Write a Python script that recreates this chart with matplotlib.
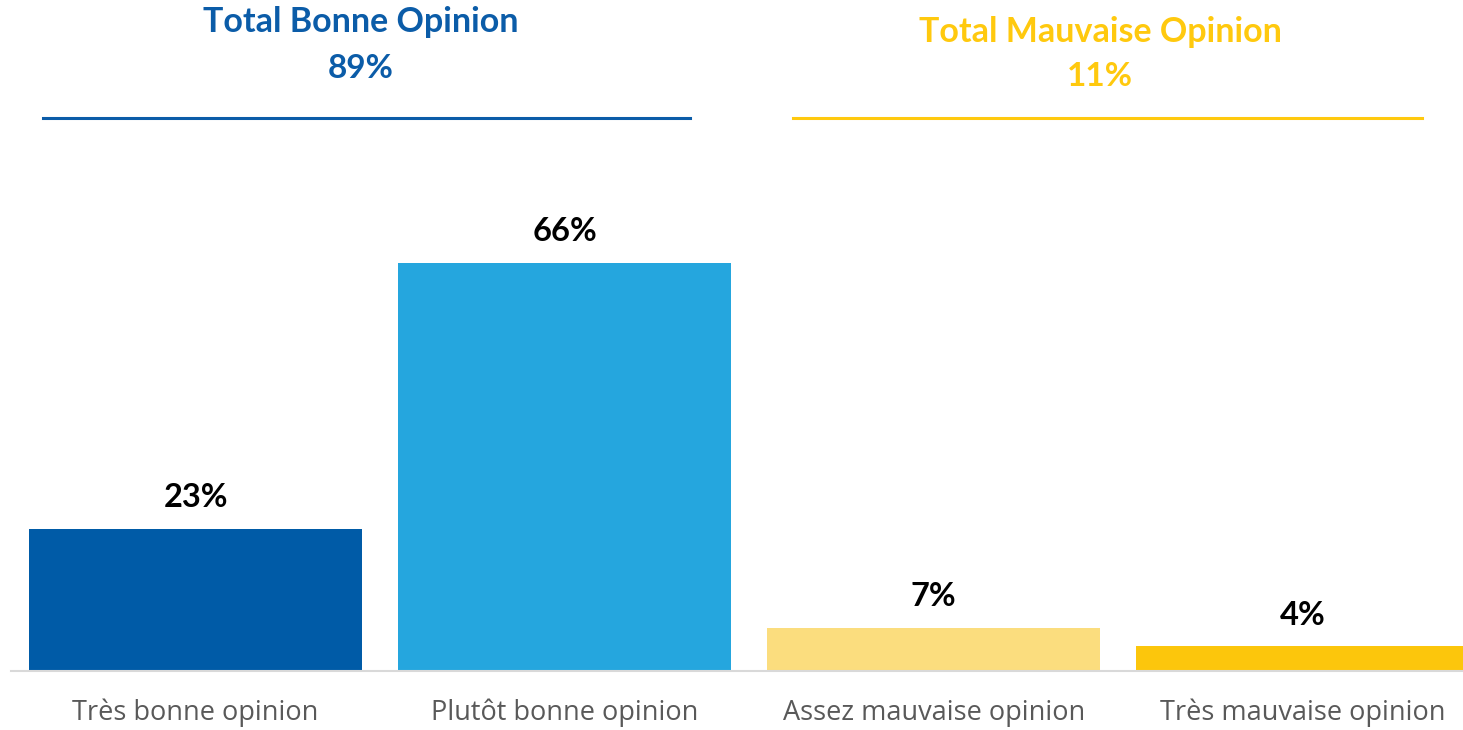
import matplotlib
matplotlib.use("Agg")
import matplotlib.pyplot as plt
from matplotlib.lines import Line2D

categories = ["Très bonne opinion", "Plutôt bonne opinion", "Assez mauvaise opinion", "Très mauvaise opinion"]
values = [23, 66, 7, 4]
bar_colors = ["#005BA7", "#25A6DE", "#FBDD7E", "#FCC60C"]
group_titles = ["Total Bonne Opinion", "Total Mauvaise Opinion"]
group_totals = [89, 11]
group_colors = ["#0B5CA8", "#FFC90E"]

W, H = 1463, 730
fig = plt.figure(figsize=(W / 100, H / 100), dpi=100)
ax = fig.add_axes([11 / W, (H - 671) / H, 1 - 11 / W, 671 / H])

x = list(range(len(categories)))
ax.bar(x, values, width=0.902, color=bar_colors, zorder=2)
ax.set_xlim(-0.5, 3.434)
ax.set_ylim(0, 671 / 6.18)

for xi, v in zip(x, values):
    ax.annotate(f"{v}%", (xi, v), xytext=(0, 12), textcoords="offset points",
                ha="center", va="bottom", fontsize=23.5, fontweight="bold",
                family="Lato", color="black")

for s in ["top", "right", "left"]:
    ax.spines[s].set_visible(False)
ax.spines["bottom"].set_color("#D9D9D9")
ax.spines["bottom"].set_linewidth(1.5)
ax.set_yticks([])
ax.set_xticks(x)
ax.set_xticklabels(categories, fontsize=19.5, family="Open Sans", color="#595959")
ax.tick_params(axis="x", length=0, pad=20)

# group headers
hdr = [(361, 22, 68, 43, 690), (1100, 32, 76, 793, 1422)]
for (cx, ty, vy, x0, x1), t, tot, c in zip(hdr, group_titles, group_totals, group_colors):
    fig.text(cx / W, 1 - ty / H, t, ha="center", va="center", fontsize=24.5,
             fontweight="bold", family="Lato", color=c)
    fig.text(cx / W, 1 - vy / H, f"{tot}%", ha="center", va="center", fontsize=24,
             fontweight="bold", family="Lato", color=c)
    fig.add_artist(Line2D([x0 / W, x1 / W], [1 - 118 / H, 1 - 118 / H],
                          color=c, linewidth=2.2, transform=fig.transFigure))

fig.savefig("out.png", dpi=100)
